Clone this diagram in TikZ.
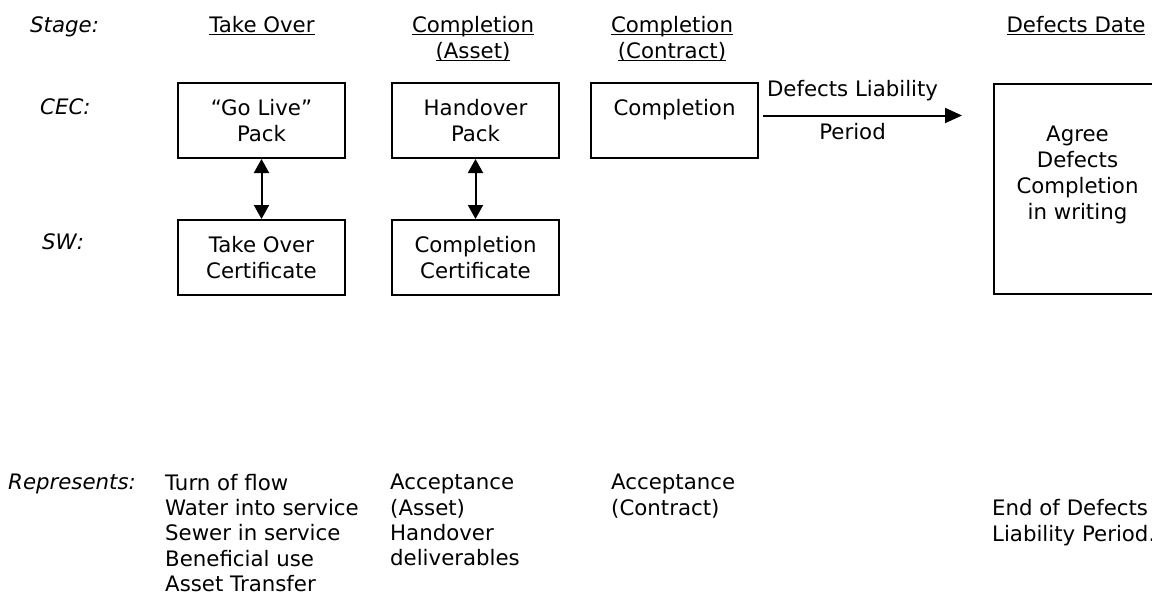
\documentclass[tikz,border=0pt]{standalone}
\usepackage{fontspec}
\setmainfont{DejaVu Sans}
\usetikzlibrary{positioning,arrows.meta}
\newcommand{\hdrline}[1]{\setbox0=\hbox{#1}\rlap{\rule[-2.5pt]{\wd0}{1.5pt}}\box0}

\begin{document}
\begin{tikzpicture}[x=1pt,y=-1pt,
  font=\fontsize{21.3pt}{26pt}\selectfont,
  box/.style={draw, line width=2pt, minimum width=167pt, minimum height=75pt, align=center, inner sep=0pt},
  txt/.style={inner sep=0pt, align=left, anchor=north west, font=\fontsize{21.3pt}{25.3pt}\selectfont},
  hdr/.style={inner sep=0pt, align=center, anchor=north},
  side/.style={inner sep=0pt, anchor=north west, font=\fontsize{21.3pt}{26pt}\selectfont\itshape},
  arr/.style={line width=2pt, {Triangle[length=14pt,width=15pt]}-{Triangle[length=14pt,width=15pt]}}]
\useasboundingbox (0,0) rectangle (1152,594);

% row labels
\node[side] (stage) at (30,16.5) {Stage:};
\node[side] (cec) at (40,98.5) {CEC:};
\node[side] (sw) at (42,233.5) {SW:};
\node[side] (repr) at (8,474) {Represents:};

% stage headings
\node[hdr] (hto) at (262,16.5) {\hdrline{Take Over}};
\node[hdr] (hca) at (473,16.5) {\hdrline{Completion}\\\hdrline{(Asset)}};
\node[hdr] (hcc) at (672,16.5) {\hdrline{Completion}\\\hdrline{(Contract)}};
\node[hdr] (hdd) at (1076,16.5) {\hdrline{Defects Date}};

% CEC and SW boxes
\node[box] (golive) at (261.5,120.5) {``Go Live''\\Pack};
\node[box, right=45pt of golive] (handover) {Handover\\Pack};
\node[box, right=30pt of handover] (complete) {Completion\\\mbox{}};
\node[box, below=60pt of golive] (tocert) {Take Over\\Certificate};
\node[box, below=60pt of handover] (cocert) {Completion\\Certificate};
\node[box, minimum height=210pt, anchor=north west] (agree) at (993,83) {Agree\\Defects\\Completion\\in writing\\[6pt]\mbox{}};

\draw[arr] (golive) -- (tocert);
\draw[arr] (handover) -- (cocert);

% defects liability period
\coordinate (dlpA) at (763,115.5);
\coordinate (dlpB) at (962,115.5);
\draw[line width=2pt, -{Triangle[length=17pt,width=15pt]}] (dlpA) -- node[pos=0.45, above=14pt, inner sep=0pt] (dlptop) {Defects Liability} node[pos=0.45, below=6.5pt, inner sep=0pt] (dlpbot) {Period} (dlpB);

% what each stage represents
\node[txt] (rto) at (165,474) {Turn of flow\\Water into service\\Sewer in service\\Beneficial use\\Asset Transfer};
\node[txt] (rca) at (390,474) {Acceptance\\(Asset)\\Handover\\deliverables};
\node[txt] (rcc) at (611,474) {Acceptance\\(Contract)};
\node[txt] (rdd) at (992,499.5) {End of Defects\\Liability Period.};
\end{tikzpicture}
\end{document}
